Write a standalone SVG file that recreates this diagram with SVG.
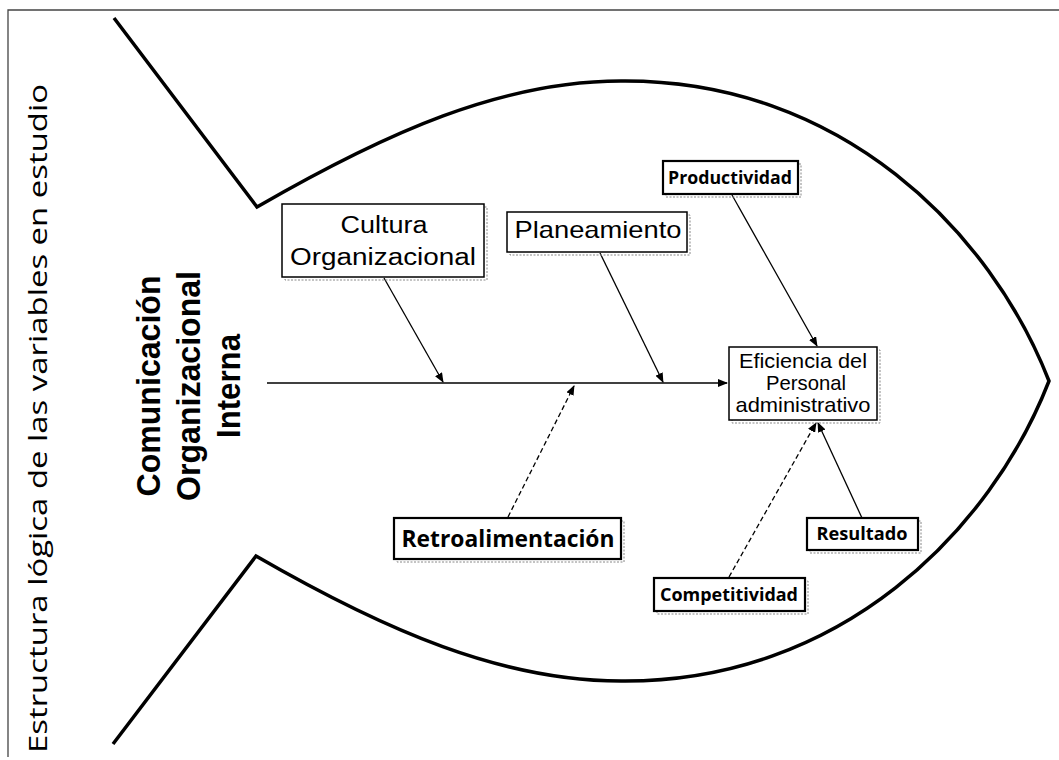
<svg xmlns="http://www.w3.org/2000/svg" width="1059" height="760" viewBox="0 0 1059 760">
<style>
.fish{fill:none;stroke:#000;stroke-width:3.5;stroke-linejoin:miter}
.frame{fill:none;stroke:#444;stroke-width:1.3}
.box{fill:#fff;stroke:#000;stroke-width:1.5}
.halo{fill:none;stroke:#888;stroke-width:1;stroke-dasharray:2 1.5}
.sbox{fill:#fff;stroke:#000;stroke-width:2.2}
.arial{font-family:"Liberation Sans",Arial,sans-serif;fill:#000}
.sans{font-family:"Open Sans","Noto Sans",sans-serif;fill:#000}
.bold{font-weight:bold}
.con{fill:none;stroke:#000;stroke-width:1.3}
.dash{stroke-dasharray:5 3}
</style>
<defs>
<marker id="ah" viewBox="0 0 10 8" refX="9" refY="4" markerWidth="10" markerHeight="8" markerUnits="userSpaceOnUse" orient="auto">
<path d="M0,0 L10,4 L0,8 z" fill="#000"/>
</marker>
</defs>
<rect width="1059" height="760" fill="#fff"/>
<g id="frame">
<path class="frame" d="M8,757 L8,10 L1059,10"/>
</g>
<g id="title">
<text class="sans" font-size="26" text-anchor="middle" transform="translate(47,418.5) rotate(-90)" textLength="669" lengthAdjust="spacingAndGlyphs">Estructura lógica de las variables en estudio</text>
</g>
<g id="fish">
<path class="fish" d="M114,18 L257,207 C387,132 502,81 621,81 C841,79 991,232 1049,381 C991,530 841,683 621,681 C502,681 386,631 256,556 L113,744"/>
</g>
<g id="connectors">
<line class="con" x1="267" y1="383" x2="727" y2="383" stroke-width="1.6" marker-end="url(#ah)"/>
<line class="con" x1="384" y1="278" x2="443" y2="382" marker-end="url(#ah)"/>
<line class="con" x1="600" y1="253" x2="663" y2="382" marker-end="url(#ah)"/>
<line class="con dash" x1="508" y1="517" x2="574" y2="386" marker-end="url(#ah)"/>
<line class="con" x1="732" y1="195" x2="817" y2="346" marker-end="url(#ah)"/>
<line class="con dash" x1="729" y1="577" x2="816" y2="423" marker-end="url(#ah)"/>
<line class="con" x1="862" y1="518" x2="818" y2="423" marker-end="url(#ah)"/>
</g>
<g id="head">
<g class="arial bold" font-size="33" text-anchor="middle" transform="translate(0,386) rotate(-90)">
<text x="0" y="160" textLength="221" lengthAdjust="spacingAndGlyphs">Comunicación</text>
<text x="0" y="200" textLength="230" lengthAdjust="spacingAndGlyphs">Organizacional</text>
<text x="0" y="240" textLength="104" lengthAdjust="spacingAndGlyphs">Interna</text>
</g>
</g>
<g id="cultura">
<rect class="halo" x="285" y="207" width="202" height="73"/>
<rect class="box" x="282" y="204" width="202" height="73"/>
<text class="arial" font-size="23" x="384" y="233" text-anchor="middle" textLength="87" lengthAdjust="spacingAndGlyphs">Cultura</text>
<text class="arial" font-size="23" x="383" y="265" text-anchor="middle" textLength="186" lengthAdjust="spacingAndGlyphs">Organizacional</text>
</g>
<g id="planeamiento">
<rect class="halo" x="510" y="215" width="180" height="40"/>
<rect class="box" x="507" y="212" width="180" height="40"/>
<text class="arial" font-size="24" x="598" y="238" text-anchor="middle" textLength="167" lengthAdjust="spacingAndGlyphs">Planeamiento</text>
</g>
<g id="eficiencia">
<rect class="halo" x="732" y="350" width="148" height="73"/>
<rect class="box" x="729" y="347" width="148" height="73"/>
<text class="arial" font-size="21" x="803" y="368" text-anchor="middle" textLength="128" lengthAdjust="spacingAndGlyphs">Eficiencia del</text>
<text class="arial" font-size="21" x="806" y="390" text-anchor="middle" textLength="80" lengthAdjust="spacingAndGlyphs">Personal</text>
<text class="arial" font-size="21" x="803" y="412" text-anchor="middle" textLength="135" lengthAdjust="spacingAndGlyphs">administrativo</text>
</g>
<g id="productividad">
<rect class="halo" x="666" y="164" width="135" height="33"/>
<rect class="sbox" x="663" y="161" width="135" height="33"/>
<text class="sans bold" font-size="18" x="730" y="184" text-anchor="middle" textLength="124" lengthAdjust="spacingAndGlyphs">Productividad</text>
</g>
<g id="retroalimentacion">
<rect class="halo" x="397" y="521" width="227" height="41"/>
<rect class="sbox" x="394" y="518" width="227" height="41"/>
<text class="sans bold" font-size="23" x="508" y="547" text-anchor="middle" textLength="213" lengthAdjust="spacingAndGlyphs">Retroalimentación</text>
</g>
<g id="competitividad">
<rect class="halo" x="657" y="581" width="151" height="33"/>
<rect class="sbox" x="654" y="578" width="151" height="33"/>
<text class="sans bold" font-size="18" x="729" y="601" text-anchor="middle" textLength="138" lengthAdjust="spacingAndGlyphs">Competitividad</text>
</g>
<g id="resultado">
<rect class="halo" x="810" y="521" width="111" height="32"/>
<rect class="sbox" x="807" y="518" width="111" height="32"/>
<text class="sans bold" font-size="18" x="862" y="540" text-anchor="middle" textLength="91" lengthAdjust="spacingAndGlyphs">Resultado</text>
</g>
</svg>
